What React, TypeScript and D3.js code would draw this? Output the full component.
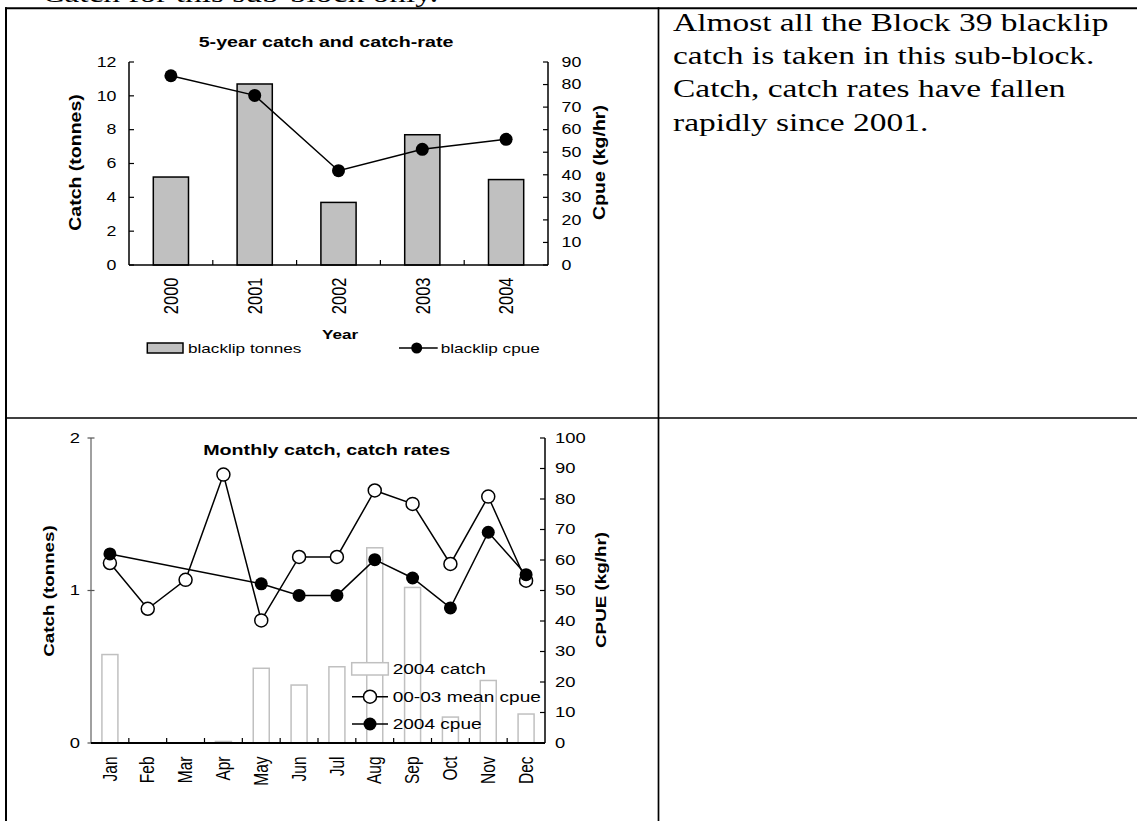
import * as d3 from "d3";

// 5-year summary
const years = ["2000", "2001", "2002", "2003", "2004"];
const blacklipTonnes = [5.2, 10.7, 3.7, 7.7, 5.05];
const blacklipCpue = [83.9, 75.2, 41.8, 51.3, 55.7];
const catchTicks = [0, 2, 4, 6, 8, 10, 12];
const cpueTicks = [0, 10, 20, 30, 40, 50, 60, 70, 80, 90];

// monthly
const months = ["Jan", "Feb", "Mar", "Apr", "May", "Jun", "Jul", "Aug", "Sep", "Oct", "Nov", "Dec"];
const catch2004 = [0.58, 0, 0, 0.01, 0.49, 0.38, 0.5, 1.28, 1.02, 0.17, 0.41, 0.19];
const meanCpue0003 = [59.0, 44.0, 53.5, 88.0, 40.2, 61.0, 61.0, 82.8, 78.4, 58.7, 80.8, 53.2];
const cpue2004: (number | null)[] = [62.0, null, null, null, 52.2, 48.4, 48.4, 60.1, 54.1, 44.3, 69.1, 55.2];
const monthCatchTicks = [0, 1, 2];
const monthCpueTicks = [0, 10, 20, 30, 40, 50, 60, 70, 80, 90, 100];

const noteLines = [
  "Almost all the Block 39 blacklip",
  "catch is taken in this sub-block.",
  "Catch, catch rates have fallen",
  "rapidly since 2001.",
];

const SANS = "'Liberation Sans', Arial, sans-serif";
const SERIF = "'Liberation Serif', 'Times New Roman', serif";
const SX = 1.27; // the picture's text is wider than it is tall

type LabelProps = {
  x: number;
  y: number;
  children: any;
  size?: number;
  anchor?: string;
  bold?: boolean;
  rotate?: number;
  sx?: number;
  baseline?: string;
  family?: string;
};

const Label = ({ x, y, children, size = 14, anchor = "start", bold = false, rotate = 0, sx = SX, baseline = "central", family = SANS }: LabelProps) => {
  const t = `translate(${x},${y}) scale(${sx},1)` + (rotate ? ` rotate(${rotate})` : "");
  return (
    <text
      transform={t}
      fontSize={size}
      textAnchor={anchor}
      fontWeight={bold ? "bold" : "normal"}
      dominantBaseline={baseline}
      fontFamily={family}
      fill="#000"
    >
      {children}
    </text>
  );
};

const YearChart = () => {
  const left = 129, right = 548, top = 62, bottom = 265;
  const x = d3.scaleBand<string>().domain(years).range([left, right]).paddingInner(0.58).paddingOuter(0.29);
  const yL = d3.scaleLinear().domain([0, 12]).range([bottom, top]);
  const yR = d3.scaleLinear().domain([0, 90]).range([bottom, top]);
  const cx = (i: number) => x(years[i])! + x.bandwidth() / 2;
  const gap = (x.step() - x.bandwidth()) / 2;
  const line = d3.line<number>().x((d, i) => cx(i)).y((d) => yR(d));

  return (
    <g>
      <Label x={326} y={47.3} size={15.5} anchor="middle" bold baseline="auto">
        5-year catch and catch-rate
      </Label>

      {blacklipTonnes.map((v, i) => (
        <rect key={i} x={x(years[i])} y={yL(v)} width={x.bandwidth()} height={yL(0) - yL(v)} fill="#c0c0c0" stroke="#000" strokeWidth={1.5} />
      ))}

      {/* axes */}
      <line x1={left} x2={left} y1={top} y2={bottom} stroke="#000" strokeWidth={1.5} />
      <line x1={right} x2={right} y1={top} y2={bottom} stroke="#000" strokeWidth={1.5} />
      <line x1={left} x2={right} y1={bottom} y2={bottom} stroke="#000" strokeWidth={1.5} />
      {catchTicks.map((t) => (
        <g key={"l" + t}>
          <line x1={left} x2={left + 5} y1={yL(t)} y2={yL(t)} stroke="#000" strokeWidth={1.2} />
          <Label x={116.5} y={yL(t)} anchor="end">{t}</Label>
        </g>
      ))}
      {cpueTicks.map((t) => (
        <g key={"r" + t}>
          <line x1={right - 5} x2={right} y1={yR(t)} y2={yR(t)} stroke="#000" strokeWidth={1.2} />
          <Label x={561.5} y={yR(t)}>{t}</Label>
        </g>
      ))}
      {years.slice(1).map((yr) => (
        <line key={yr} x1={x(yr)! - gap} x2={x(yr)! - gap} y1={bottom - 5} y2={bottom} stroke="#000" strokeWidth={1.2} />
      ))}
      {years.map((yr, i) => (
        <Label key={yr} x={cx(i)} y={277.5} size={16.5} anchor="end" rotate={-90}>{yr}</Label>
      ))}

      <path d={line(blacklipCpue) ?? ""} fill="none" stroke="#000" strokeWidth={1.5} />
      {blacklipCpue.map((v, i) => (
        <circle key={i} cx={cx(i)} cy={yR(v)} r={6.5} fill="#000" />
      ))}

      <Label x={76} y={162.5} size={19.5} bold anchor="middle" rotate={-90} sx={0.82}>Catch (tonnes)</Label>
      <Label x={600} y={162.5} size={19.5} bold anchor="middle" rotate={-90} sx={0.82}>Cpue (kg/hr)</Label>
      <Label x={340} y={334} size={13.5} bold anchor="middle">Year</Label>

      {/* legend */}
      <rect x={147.3} y={343} width={35.7} height={10} fill="#c0c0c0" stroke="#000" strokeWidth={1.5} />
      <Label x={188} y={348} size={13.5}>blacklip tonnes</Label>
      <line x1={399} x2={437.7} y1={348} y2={348} stroke="#000" strokeWidth={1.5} />
      <circle cx={416.7} cy={348} r={5.5} fill="#000" />
      <Label x={440.7} y={348} size={13.5}>blacklip cpue</Label>
    </g>
  );
};

const MonthChart = () => {
  const left = 91, right = 545, top = 438, bottom = 743;
  const x = d3.scaleBand<string>().domain(months).range([left, right]).paddingInner(0.577).paddingOuter(0.2885);
  const yL = d3.scaleLinear().domain([0, 2]).range([bottom, top]);
  const yR = d3.scaleLinear().domain([0, 100]).range([bottom, top]);
  const cx = (i: number) => x(months[i])! + x.bandwidth() / 2;
  const gap = (x.step() - x.bandwidth()) / 2;

  const meanPts = meanCpue0003.map((v, i) => [cx(i), yR(v)] as [number, number]);
  const pts2004 = cpue2004
    .map((v, i) => (v == null ? null : ([cx(i), yR(v)] as [number, number])))
    .filter((p): p is [number, number] => p !== null);
  const line = d3.line();

  return (
    <g>
      {catch2004.map((v, i) =>
        v > 0 ? (
          <rect key={i} x={x(months[i])} y={yL(v)} width={x.bandwidth()} height={yL(0) - yL(v)} fill="#fff" stroke="#c0c0c0" strokeWidth={1.5} />
        ) : null
      )}

      <Label x={326.7} y={455} size={15.5} anchor="middle" bold baseline="auto">
        Monthly catch, catch rates
      </Label>

      {/* axes */}
      <line x1={left} x2={left} y1={top} y2={bottom} stroke="#808080" strokeWidth={1.5} />
      <line x1={right} x2={right} y1={top} y2={bottom} stroke="#000" strokeWidth={1.5} />
      {monthCatchTicks.map((t) => (
        <g key={"l" + t}>
          <line x1={left - 3.5} x2={left + 3.5} y1={yL(t)} y2={yL(t)} stroke="#555" strokeWidth={1.2} />
          <Label x={80} y={yL(t)} size={14.5} anchor="end">{t}</Label>
        </g>
      ))}
      {monthCpueTicks.map((t) => (
        <g key={"r" + t}>
          <line x1={right - 5} x2={right} y1={yR(t)} y2={yR(t)} stroke="#000" strokeWidth={1.2} />
          <Label x={555} y={yR(t)} size={14.5}>{t}</Label>
        </g>
      ))}
      <line x1={left} x2={right} y1={bottom} y2={bottom} stroke="#000" strokeWidth={2} />
      {months.slice(1).map((m) => (
        <line key={m} x1={x(m)! - gap} x2={x(m)! - gap} y1={bottom - 5} y2={bottom} stroke="#000" strokeWidth={1.2} />
      ))}
      {months.map((m, i) => (
        <Label key={m} x={cx(i)} y={756.5} size={15.5} anchor="end" rotate={-90}>{m}</Label>
      ))}

      <path d={line(meanPts) ?? ""} fill="none" stroke="#000" strokeWidth={1.5} />
      <path d={line(pts2004) ?? ""} fill="none" stroke="#000" strokeWidth={1.5} />
      {meanPts.map(([px, py], i) => (
        <circle key={"m" + i} cx={px} cy={py} r={6.5} fill="#fff" stroke="#000" strokeWidth={1.5} />
      ))}
      {pts2004.map(([px, py], i) => (
        <circle key={"c" + i} cx={px} cy={py} r={6.5} fill="#000" />
      ))}

      <Label x={48.3} y={591} size={18.8} bold anchor="middle" rotate={-90} sx={0.82}>Catch (tonnes)</Label>
      <Label x={600.5} y={590} size={18.8} bold anchor="middle" rotate={-90} sx={0.82}>CPUE (kg/hr)</Label>

      {/* legend */}
      <rect x={351.7} y={662.7} width={36.6} height={12.3} fill="#fff" stroke="#c0c0c0" strokeWidth={1.5} />
      <Label x={392.7} y={669} size={15}>2004 catch</Label>
      <line x1={352} x2={388} y1={696.7} y2={696.7} stroke="#000" strokeWidth={1.5} />
      <circle cx={370} cy={696.7} r={6.5} fill="#fff" stroke="#000" strokeWidth={1.5} />
      <Label x={392.7} y={696.7} size={15}>00-03 mean cpue</Label>
      <line x1={352} x2={388} y1={724} y2={724} stroke="#000" strokeWidth={1.5} />
      <circle cx={370} cy={724} r={6.5} fill="#000" />
      <Label x={392.7} y={724} size={15}>2004 cpue</Label>
    </g>
  );
};

export default function App() {
  return (
    <svg width={1137} height={821} style={{ position: "absolute", left: 0, top: 0, background: "#fff" }}>
      <rect width={1137} height={821} fill="#fff" />
      {/* line of the page above, cut off */}
      <Label x={42} y={1.5} size={24.5} sx={1.365} family={SERIF} baseline="auto">
        Catch for this sub-block only.
      </Label>

      {/* table rules */}
      <line x1={5} x2={1137} y1={8.3} y2={8.3} stroke="#000" strokeWidth={2} />
      <line x1={6} x2={6} y1={7.3} y2={821} stroke="#000" strokeWidth={2} />
      <line x1={658.5} x2={658.5} y1={7.3} y2={821} stroke="#000" strokeWidth={1.7} />
      <line x1={5} x2={1137} y1={418} y2={418} stroke="#000" strokeWidth={1.7} />

      <YearChart />
      <MonthChart />

      {noteLines.map((t, i) => (
        <Label key={i} x={673} y={30.7 + i * 33.3} size={24.5} sx={1.365} family={SERIF} baseline="auto">
          {t}
        </Label>
      ))}
    </svg>
  );
}
